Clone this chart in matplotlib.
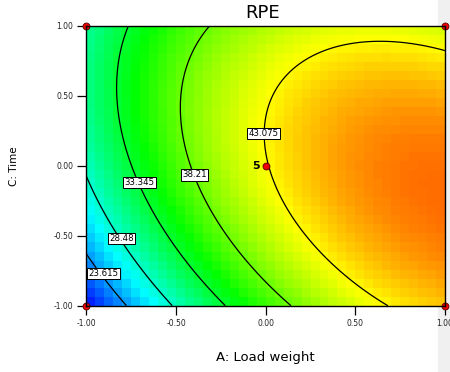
import numpy as np
import matplotlib
matplotlib.use("Agg")
import matplotlib.pyplot as plt
from matplotlib.colors import LinearSegmentedColormap
from matplotlib.patches import Rectangle

# quadratic model for RPE in coded units (A: load weight, C: time)
b0 = 42.93
bA, bC, bAC, bAA, bCC = 9.26, 1.97, -3.63, -4.73, -4.47

levels = [23.615, 28.48, 33.345, 38.21, 43.075]
label_pos = [(-0.906, -0.769), (-0.804, -0.519), (-0.705, -0.119),
             (-0.399, -0.066), (-0.014, 0.231)]

design_A = [-1, 1, -1, 1, 0]
design_C = [1, 1, -1, -1, 0]
center_runs = "5"

ticks = [-1.0, -0.5, 0.0, 0.5, 1.0]
tick_labels = ["-1.00", "-0.50", "0.00", "0.50", "1.00"]


def rpe(a, c):
    return b0 + bA * a + bC * c + bAC * a * c + bAA * a ** 2 + bCC * c ** 2


cmap = LinearSegmentedColormap.from_list(
    "dx", ["#0000ff", "#00ffff", "#00ff00", "#ffff00", "#ff0000"])

fig = plt.figure(figsize=(4.5, 3.72), dpi=100)
fig.patches.append(Rectangle((438 / 450, 0), 12 / 450, 1, transform=fig.transFigure,
                             color="#f0f0f0", zorder=-5))
ax = fig.add_axes([0.1922, 0.1782, 0.7967, 0.7527])

# coarse colour cells like the original
ea = np.linspace(-1, 1, 41)
ec = np.linspace(-1, 1, 32)
ca, cc = np.meshgrid((ea[:-1] + ea[1:]) / 2, (ec[:-1] + ec[1:]) / 2)
ax.pcolormesh(ea, ec, rpe(ca, cc), cmap=cmap, vmin=18.87, vmax=51.0,
              shading="flat", zorder=1)

# smooth contour lines
fa, fc = np.meshgrid(np.linspace(-1, 1, 300), np.linspace(-1, 1, 300))
ax.contour(fa, fc, rpe(fa, fc), levels=levels, colors="black",
           linewidths=0.9, zorder=2)

for lv, (xa, yc) in zip(levels, label_pos):
    ax.text(xa, yc, f"{lv:g}", fontsize=6.2, family="DejaVu Sans",
            ha="center", va="center", zorder=4,
            bbox=dict(boxstyle="square,pad=0.15", fc="white", ec="black", lw=0.7))

ax.plot(design_A, design_C, "o", ms=5, mfc="#ee0000", mec="#550000", mew=0.6,
        clip_on=False, zorder=5)
ax.text(-0.035, 0.0, center_runs, fontsize=8, fontweight="bold",
        ha="right", va="center", zorder=5)

ax.set_xlim(-1, 1)
ax.set_ylim(-1, 1)
ax.set_xticks(ticks)
ax.set_xticklabels(tick_labels)
ax.set_yticks(ticks)
ax.set_yticklabels(tick_labels)
ax.tick_params(direction="out", length=6.5, width=0.9, pad=3, labelsize=5.5,
               colors="black", labelcolor="#222222")
for lab in ax.get_xticklabels() + ax.get_yticklabels():
    lab.set_family("DejaVu Sans")
for s in ax.spines.values():
    s.set_linewidth(1.0)
    s.set_zorder(6)

fig.text(263 / 450, 1 - 13 / 372, "RPE", fontsize=13, family="DejaVu Sans",
         ha="center", va="center")
fig.text(265 / 450, 1 - 358 / 372, "A: Load weight", fontsize=9.5,
         family="DejaVu Sans", ha="center", va="center")
fig.text(14 / 450, 1 - 166 / 372, "C: Time", fontsize=7.5, family="DejaVu Sans",
         ha="center", va="center", rotation=90)

fig.savefig("out.png", dpi=100)
